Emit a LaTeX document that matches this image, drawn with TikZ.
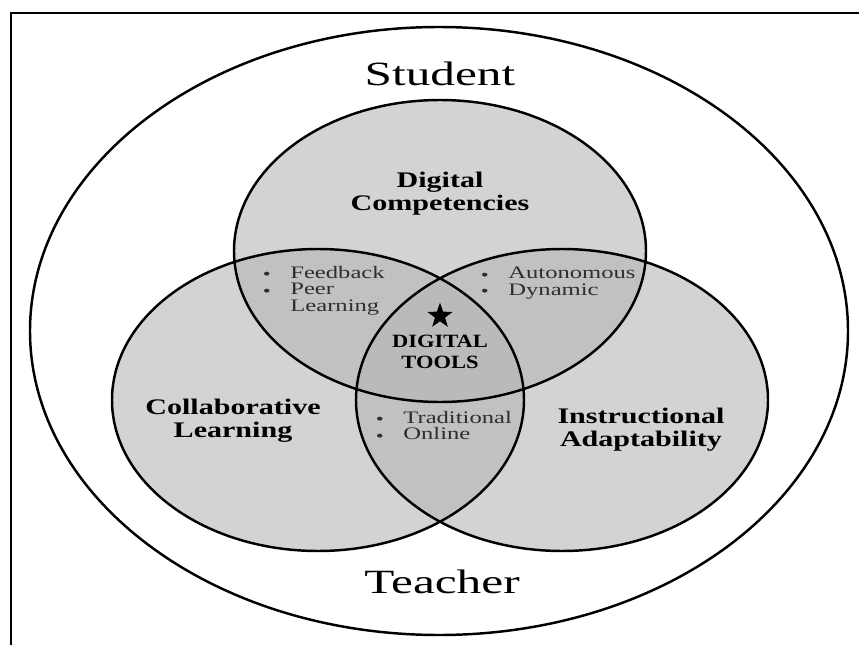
\documentclass[tikz,border=0pt]{standalone}
\usepackage{fontspec}
\setmainfont{Liberation Serif}
\usetikzlibrary{shapes.geometric}
\definecolor{setgray}{HTML}{D3D3D3}
\definecolor{pairgray}{HTML}{C1C1C1}
\definecolor{coregray}{HTML}{BABABA}
\definecolor{notegray}{HTML}{2E2E2E}
% the three sets, in pixel units
\newcommand{\topset}{(440,251) ellipse [x radius=206, y radius=151]}
\newcommand{\leftset}{(318,400) ellipse [x radius=206, y radius=151]}
\newcommand{\rightset}{(562,400) ellipse [x radius=206, y radius=151]}
\newcommand{\bul}{\makebox[1.1em][l]{\raisebox{0.2ex}{\footnotesize$\bullet$}}}

\begin{document}
\begin{tikzpicture}[
  x=0.03cm, y=-0.03cm,
  border/.style={line width=2.5pt},
  ring/.style={line width=2.1pt},
  role/.style={font=\fontsize{29}{30}\selectfont, xscale=1.45},
  setlabel/.style={font=\fontsize{19}{19.5}\selectfont\bfseries, align=center, xscale=1.35},
  note/.style={font=\fontsize{15}{14}\selectfont, align=left, text=notegray, xscale=1.4, anchor=north west, inner sep=0pt}
]
\useasboundingbox (0,0) rectangle (859,645);
\draw[border] (11,645) |- (859,13);

% outer ring and set fills
\draw[ring] (439,331) ellipse [x radius=409, y radius=304];
\fill[setgray] \topset \leftset \rightset;
\begin{scope}
  \clip \topset;
  \fill[pairgray] \leftset;
  \fill[pairgray] \rightset;
\end{scope}
\begin{scope}
  \clip \leftset;
  \fill[pairgray] \rightset;
\end{scope}
\begin{scope}
  \clip \topset;
  \clip \leftset;
  \fill[coregray] \rightset;
\end{scope}
\draw[ring] \topset \leftset \rightset;

% labels
\node[role] (student) at (440,74) {Student};
\node[role] (teacher) at (442,582) {Teacher};
\node[setlabel] (competencies) at (440,194) {Digital\\Competencies};
\node[setlabel] (collab) at (233,421) {Collaborative\\Learning};
\node[setlabel] (instruct) at (641,430) {Instructional\\Adaptability};

\node[star, star points=5, star point ratio=2.5, fill=black, inner sep=0pt, minimum size=8mm] (star) at (440,316) {};
\node[font=\fontsize{16}{18.5}\selectfont\bfseries, align=center, xscale=1.2] (tools) at (440,352) {DIGITAL\\TOOLS};

\node[note] (feedback) at (263,266) {\bul Feedback\\\bul Peer\\\hphantom{\bul}Learning};
\node[note] (autonomous) at (481,267) {\bul Autonomous\\\bul Dynamic};
\node[note] (traditional) at (376,411) {\bul Traditional\\\bul Online};
\end{tikzpicture}
\end{document}
